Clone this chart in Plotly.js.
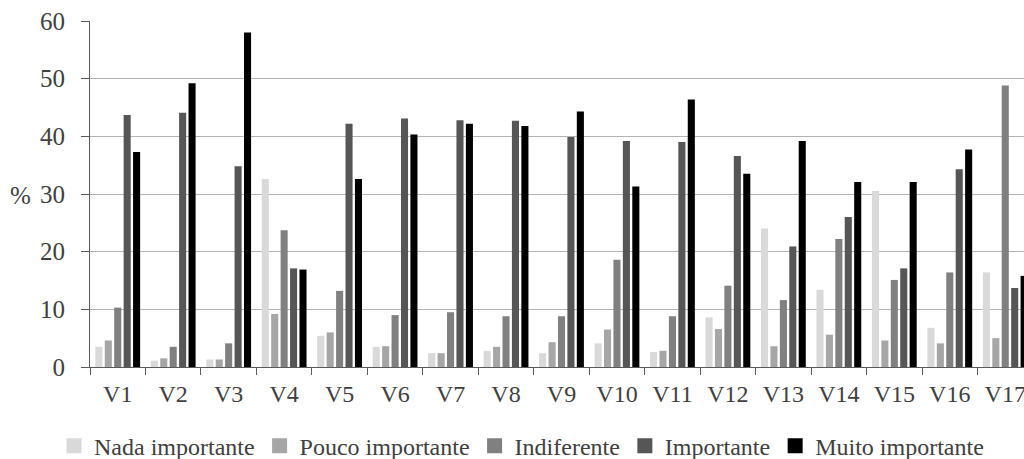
<!DOCTYPE html>
<html>
<head>
<meta charset="utf-8">
<script src="https://cdn.plot.ly/plotly-3.0.1.min.js"></script>
<style>
  html, body { margin: 0; padding: 0; width: 1024px; height: 459px; overflow: hidden; background: #fff; }
  #chart { width: 1043px; height: 459px; }
</style>
</head>
<body>
<div id="chart"></div>
<script>
const categories = ["V1","V2","V3","V4","V5","V6","V7","V8","V9","V10","V11","V12","V13","V14","V15","V16","V17"];
const nadaImportante   = [3.5, 1.1, 1.3, 32.6, 5.4, 3.5, 2.4, 2.8, 2.4, 4.1, 2.6, 8.6, 24.0, 13.4, 30.5, 6.8, 16.4];
const poucoImportante  = [4.6, 1.5, 1.3, 9.2, 6.0, 3.6, 2.4, 3.5, 4.3, 6.5, 2.8, 6.6, 3.6, 5.6, 4.6, 4.1, 5.0];
const indiferente      = [10.3, 3.5, 4.1, 23.7, 13.2, 9.0, 9.5, 8.8, 8.8, 18.6, 8.8, 14.1, 11.6, 22.2, 15.1, 16.4, 48.8];
const importante       = [43.7, 44.1, 34.8, 17.1, 42.2, 43.1, 42.8, 42.7, 39.9, 39.2, 39.0, 36.6, 20.9, 26.0, 17.1, 34.3, 13.7];
const muitoImportante  = [37.3, 49.2, 58.0, 16.9, 32.6, 40.3, 42.2, 41.8, 44.3, 31.3, 46.4, 33.5, 39.2, 32.1, 32.1, 37.7, 15.8];
const seriesNames = ["Nada importante", "Pouco importante", "Indiferente", "Importante", "Muito importante"];
const yTickValues = [0, 10, 20, 30, 40, 50, 60];
const yTitle = "%";

const seriesValues = [nadaImportante, poucoImportante, indiferente, importante, muitoImportante];
const colors = ["#d9d9d9", "#a6a6a6", "#808080", "#565656", "#000000"];

const traces = seriesValues.map((vals, i) => ({
  type: "bar",
  name: seriesNames[i],
  legendgroup: seriesNames[i],
  showlegend: false,
  x: categories,
  y: vals,
  marker: { color: colors[i], line: { width: 0 } },
  hoverinfo: "x+y+name"
}));

// legend entries with square symbols (same series, same colours)
seriesNames.forEach((nm, i) => {
  traces.push({
    type: "scatter",
    mode: "markers",
    name: nm,
    legendgroup: nm,
    x: [null],
    y: [null],
    marker: { symbol: "square", size: 15, color: colors[i] },
    hoverinfo: "skip"
  });
});

const family = "'Liberation Serif', 'Times New Roman', serif";
const font = { family: family, size: 24, color: "#404040" };
const yFont = { family: family, size: 25, color: "#404040" };

const layout = {
  width: 1043,
  height: 459,
  margin: { l: 90, r: 10, t: 21, b: 92 },
  paper_bgcolor: "#ffffff",
  plot_bgcolor: "#ffffff",
  font: font,
  barmode: "group",
  bargap: 0.15,
  bargroupgap: 0.25,
  showlegend: true,
  legend: {
    orientation: "h",
    xref: "container",
    yref: "container",
    x: 0.5,
    xanchor: "center",
    y: 0.028,
    yanchor: "middle",
    font: font,
    itemwidth: 30,
    traceorder: "normal"
  },
  xaxis: {
    type: "category",
    showgrid: false,
    showline: true,
    linecolor: "#595959",
    linewidth: 1,
    ticks: "outside",
    tickson: "boundaries",
    ticklen: 7,
    tickcolor: "#595959",
    ticklabelstandoff: 5,
    tickfont: font,
    zeroline: false
  },
  yaxis: {
    range: [0, 60],
    tickvals: yTickValues,
    ticktext: yTickValues.map(String),
    showgrid: true,
    gridcolor: "#b3b3b3",
    gridwidth: 1,
    showline: true,
    linecolor: "#595959",
    linewidth: 1,
    ticks: "outside",
    ticklen: 8,
    tickcolor: "#595959",
    ticklabelstandoff: 11,
    tickfont: yFont,
    zeroline: false
  },
  annotations: [{
    text: yTitle,
    xref: "paper", yref: "paper",
    x: -0.074, y: 0.497,
    xanchor: "center", yanchor: "middle",
    showarrow: false,
    font: yFont
  }]
};

Plotly.newPlot("chart", traces, layout, { displayModeBar: false, staticPlot: true });
</script>
</body>
</html>
